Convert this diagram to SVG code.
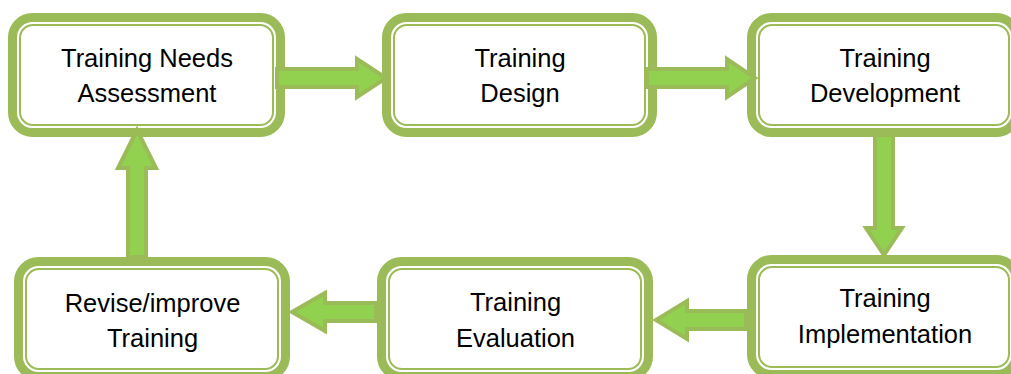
<svg xmlns="http://www.w3.org/2000/svg" width="1011" height="374" viewBox="0 0 1011 374">
<style>
.outer{fill:#fff;stroke:#9BBB59;stroke-width:9}
.inner{fill:none;stroke:#9BBB59;stroke-width:2}
.lbl{font-family:"Liberation Sans",Arial,sans-serif;font-size:25.5px;fill:#000;text-anchor:middle}
.arr{fill:#92D050;stroke:#9BBB59;stroke-width:4;stroke-linejoin:miter}
</style>
<rect width="1011" height="374" fill="#fff"/>
<g id="n1">
<rect class="outer" x="12.5" y="17.5" width="268" height="115" rx="20"/>
<rect class="inner" x="20" y="25" width="253" height="100" rx="13"/>
<text class="lbl" x="147" y="67">Training Needs</text>
<text class="lbl" x="147" y="102">Assessment</text>
</g>
<g id="n2">
<rect class="outer" x="386.5" y="17.5" width="266" height="115" rx="20"/>
<rect class="inner" x="394" y="25" width="251" height="100" rx="13"/>
<text class="lbl" x="520" y="67">Training</text>
<text class="lbl" x="520" y="102">Design</text>
</g>
<g id="n3">
<rect class="outer" x="751.5" y="17.5" width="265" height="115" rx="20"/>
<rect class="inner" x="759" y="25" width="250" height="100" rx="13"/>
<text class="lbl" x="885" y="67">Training</text>
<text class="lbl" x="885" y="102">Development</text>
</g>
<g id="n4">
<rect class="outer" x="18.5" y="261.5" width="267" height="115" rx="20"/>
<rect class="inner" x="26" y="269" width="252" height="100" rx="13"/>
<text class="lbl" x="152.5" y="312">Revise/improve</text>
<text class="lbl" x="152.5" y="347">Training</text>
</g>
<g id="n5">
<rect class="outer" x="381.5" y="261.5" width="267" height="115" rx="20"/>
<rect class="inner" x="389" y="269" width="252" height="100" rx="13"/>
<text class="lbl" x="515.5" y="311">Training</text>
<text class="lbl" x="515.5" y="347">Evaluation</text>
</g>
<g id="n6">
<rect class="outer" x="751.5" y="259.5" width="265" height="115" rx="20"/>
<rect class="inner" x="759" y="267" width="250" height="100" rx="13"/>
<text class="lbl" x="885" y="307">Training</text>
<text class="lbl" x="885" y="343">Implementation</text>
</g>
<g id="connectors">
<polygon class="arr" points="277,69 357,69 357,59 386,78 357,97 357,87 277,87"/>
<polygon class="arr" points="647,69 727,69 727,59 755,78 727,97 727,87 647,87"/>
<polygon class="arr" points="875,135 893,135 893,228 902,228 884,255 866,228 875,228"/>
<polygon class="arr" points="746,311 687,311 687,301 656,320 687,339 687,329 746,329"/>
<polygon class="arr" points="376,303 325,303 325,293 292,312 325,331 325,321 376,321"/>
<polygon class="arr" points="128,257 128,168 118,168 137,130 156,168 146,168 146,257"/>
</g>
</svg>
